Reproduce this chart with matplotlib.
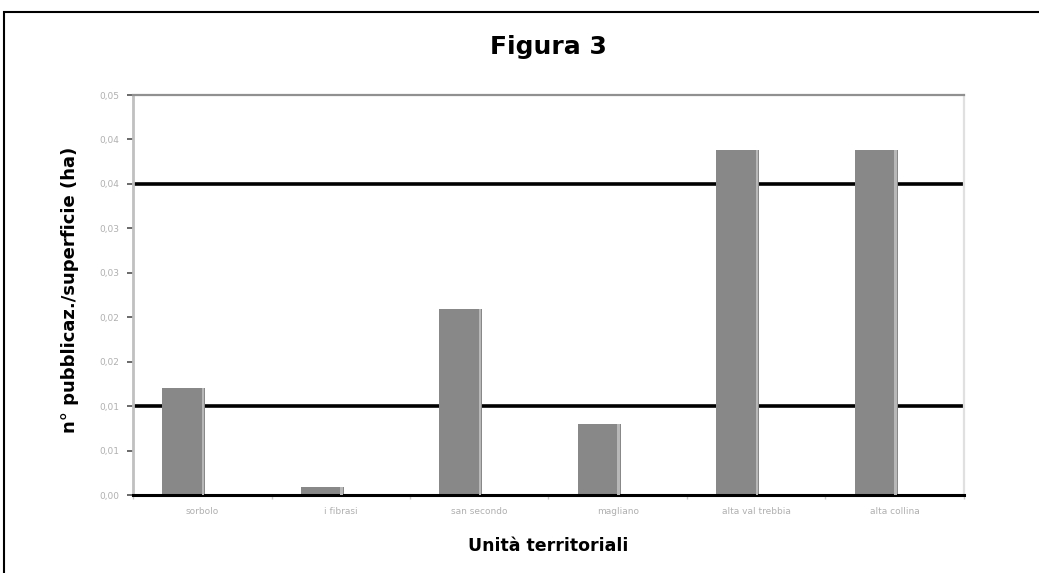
import numpy as np
import matplotlib
matplotlib.use("Agg")
import matplotlib.pyplot as plt
from matplotlib.patches import Rectangle

# Data: publications per hectare for each territorial unit
categories = ["sorbolo", "i fibrasi", "san secondo", "magliano",
              "alta val trebbia", "alta collina"]
values = [0.0120, 0.0009, 0.0209, 0.0080, 0.0388, 0.0388]
y_ticks = [0.0, 0.005, 0.010, 0.015, 0.020, 0.025, 0.030, 0.035, 0.040, 0.045]
y_tick_labels = ["0,00", "0,01", "0,01", "0,02", "0,02",
                 "0,03", "0,03", "0,04", "0,04", "0,05"]
reference_levels = [0.010, 0.035]

fig = plt.figure(figsize=(10.39, 5.73), dpi=100)
fig.patch.set_facecolor("white")
ax = fig.add_axes([133 / 1039, 1 - 495 / 573, 831 / 1039, 400 / 573])

n = len(categories)
x = np.arange(n)

# reference levels drawn beneath the bars
for lvl in reference_levels:
    ax.axhline(lvl, color="black", lw=2.6, zorder=1)

ax.bar(x + 0.365, values, width=0.31, color="#888888", edgecolor="none", zorder=2)
# light stripe on the right edge of each bar
ax.bar(x + 0.505, values, width=0.02, color="#b8b8b8", edgecolor="none", zorder=3)

ax.set_xlim(0, n)
ax.set_ylim(0, 0.045)

ax.set_yticks(y_ticks)
ax.set_yticklabels(y_tick_labels, fontsize=6.5, color="#b0b0b0")
ax.tick_params(axis="y", direction="out", length=4, width=1.2, color="#505050", pad=6)

ax.set_xticks(np.arange(n + 1))
ax.set_xticklabels([""] * (n + 1))
ax.set_xticks(x + 0.5, minor=True)
ax.set_xticklabels(categories, minor=True, fontsize=6.5, color="#b0b0b0")
ax.tick_params(axis="x", which="major", direction="out", length=3, width=1, color="#c8c8c8")
ax.tick_params(axis="x", which="minor", length=0, pad=9)

ax.spines["left"].set_color("#c0c0c0")
ax.spines["left"].set_linewidth(2)
ax.spines["top"].set_color("#909090")
ax.spines["top"].set_linewidth(1.6)
ax.spines["right"].set_color("#e0e0e0")
ax.spines["right"].set_linewidth(1.6)
ax.spines["bottom"].set_color("black")
ax.spines["bottom"].set_linewidth(2.2)

# titles centred over the plot area
plot_cx = (133 + 964) / 2 / 1039
fig.text(plot_cx, 1 - 47 / 573, "Figura 3", ha="center", va="center",
         fontsize=18, fontweight="bold", color="black")
fig.text(70 / 1039, 1 - 290 / 573, "n° pubblicaz./superficie (ha)", rotation=90,
         ha="center", va="center", fontsize=13, fontweight="bold", color="black")
fig.text(plot_cx, 1 - 546 / 573, "Unità territoriali", ha="center", va="center",
         fontsize=12.5, fontweight="bold", color="black")

# outer chart frame
fig.add_artist(Rectangle((4 / 1039, -0.05), 2, (573 - 12) / 573 + 0.05,
                         transform=fig.transFigure, fill=False,
                         edgecolor="black", linewidth=1.5))

fig.savefig("out.png", dpi=100, facecolor="white")
